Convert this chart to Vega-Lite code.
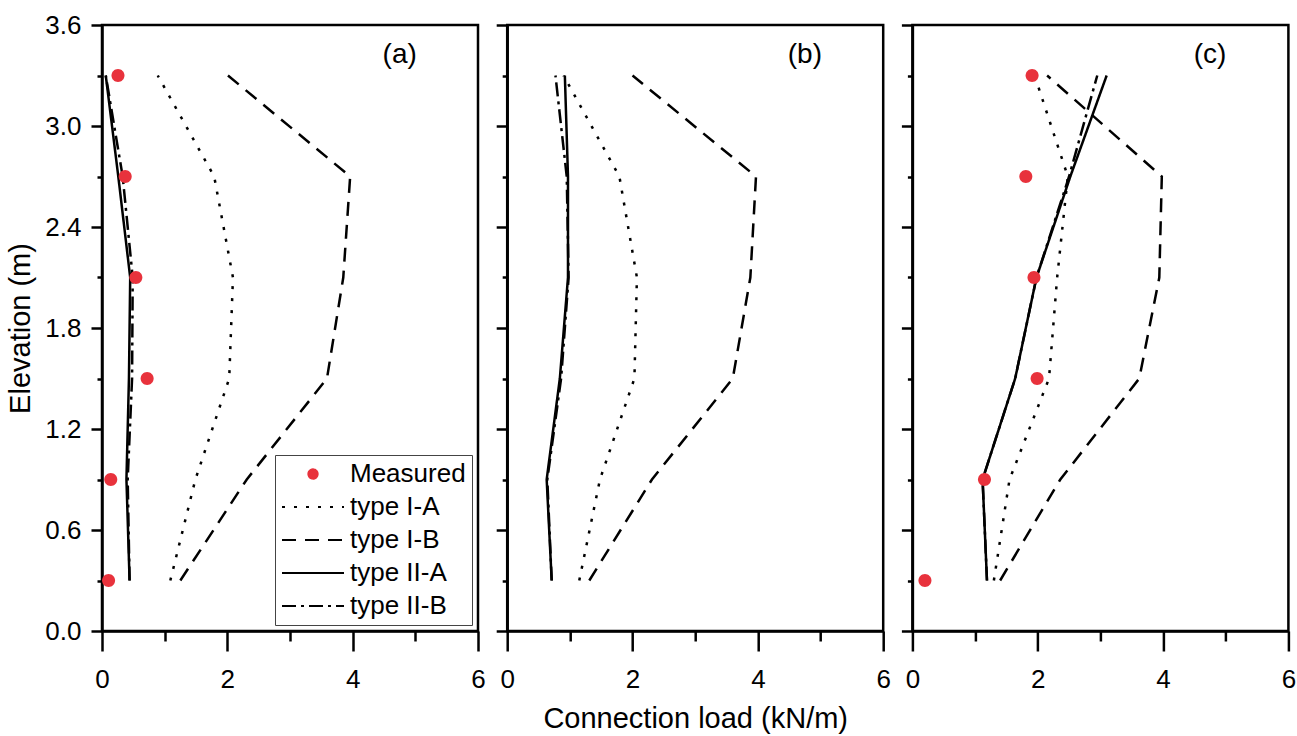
{
  "$schema": "https://vega.github.io/schema/vega-lite/v6.json",
  "background": "white",
  "padding": {"left": 5, "top": 10, "right": 0, "bottom": 0},
  "datasets": {
    "d": [
      {"panel": "a", "series": "type I-A", "x": 0.89, "y": 3.3},
      {"panel": "a", "series": "type I-A", "x": 1.79, "y": 2.7},
      {"panel": "a", "series": "type I-A", "x": 2.09, "y": 2.1},
      {"panel": "a", "series": "type I-A", "x": 2.03, "y": 1.5},
      {"panel": "a", "series": "type I-A", "x": 1.49, "y": 0.9},
      {"panel": "a", "series": "type I-A", "x": 1.09, "y": 0.3},
      {"panel": "a", "series": "type I-B", "x": 2.01, "y": 3.3},
      {"panel": "a", "series": "type I-B", "x": 3.96, "y": 2.7},
      {"panel": "a", "series": "type I-B", "x": 3.85, "y": 2.1},
      {"panel": "a", "series": "type I-B", "x": 3.59, "y": 1.5},
      {"panel": "a", "series": "type I-B", "x": 2.31, "y": 0.9},
      {"panel": "a", "series": "type I-B", "x": 1.25, "y": 0.3},
      {"panel": "a", "series": "type II-A", "x": 0.06, "y": 3.3},
      {"panel": "a", "series": "type II-A", "x": 0.26, "y": 2.7},
      {"panel": "a", "series": "type II-A", "x": 0.45, "y": 2.1},
      {"panel": "a", "series": "type II-A", "x": 0.43, "y": 1.5},
      {"panel": "a", "series": "type II-A", "x": 0.39, "y": 0.9},
      {"panel": "a", "series": "type II-A", "x": 0.44, "y": 0.3},
      {"panel": "a", "series": "type II-B", "x": 0.06, "y": 3.3},
      {"panel": "a", "series": "type II-B", "x": 0.33, "y": 2.7},
      {"panel": "a", "series": "type II-B", "x": 0.49, "y": 2.1},
      {"panel": "a", "series": "type II-B", "x": 0.48, "y": 1.5},
      {"panel": "a", "series": "type II-B", "x": 0.41, "y": 0.9},
      {"panel": "a", "series": "type II-B", "x": 0.44, "y": 0.3},
      {"panel": "a", "series": "Measured", "x": 0.255, "y": 3.3},
      {"panel": "a", "series": "Measured", "x": 0.37, "y": 2.7},
      {"panel": "a", "series": "Measured", "x": 0.54, "y": 2.1},
      {"panel": "a", "series": "Measured", "x": 0.72, "y": 1.5},
      {"panel": "a", "series": "Measured", "x": 0.14, "y": 0.9},
      {"panel": "a", "series": "Measured", "x": 0.105, "y": 0.3},
      {"panel": "b", "series": "type I-A", "x": 0.9, "y": 3.3},
      {"panel": "b", "series": "type I-A", "x": 1.79, "y": 2.7},
      {"panel": "b", "series": "type I-A", "x": 2.07, "y": 2.1},
      {"panel": "b", "series": "type I-A", "x": 2.03, "y": 1.5},
      {"panel": "b", "series": "type I-A", "x": 1.48, "y": 0.9},
      {"panel": "b", "series": "type I-A", "x": 1.15, "y": 0.3},
      {"panel": "b", "series": "type I-B", "x": 2.0, "y": 3.3},
      {"panel": "b", "series": "type I-B", "x": 3.97, "y": 2.7},
      {"panel": "b", "series": "type I-B", "x": 3.88, "y": 2.1},
      {"panel": "b", "series": "type I-B", "x": 3.6, "y": 1.5},
      {"panel": "b", "series": "type I-B", "x": 2.31, "y": 0.9},
      {"panel": "b", "series": "type I-B", "x": 1.31, "y": 0.3},
      {"panel": "b", "series": "type II-A", "x": 0.92, "y": 3.3},
      {"panel": "b", "series": "type II-A", "x": 0.97, "y": 2.7},
      {"panel": "b", "series": "type II-A", "x": 0.97, "y": 2.1},
      {"panel": "b", "series": "type II-A", "x": 0.84, "y": 1.5},
      {"panel": "b", "series": "type II-A", "x": 0.63, "y": 0.9},
      {"panel": "b", "series": "type II-A", "x": 0.71, "y": 0.3},
      {"panel": "b", "series": "type II-B", "x": 0.77, "y": 3.3},
      {"panel": "b", "series": "type II-B", "x": 0.95, "y": 2.7},
      {"panel": "b", "series": "type II-B", "x": 0.98, "y": 2.1},
      {"panel": "b", "series": "type II-B", "x": 0.86, "y": 1.5},
      {"panel": "b", "series": "type II-B", "x": 0.64, "y": 0.9},
      {"panel": "b", "series": "type II-B", "x": 0.71, "y": 0.3},
      {"panel": "c", "series": "type I-A", "x": 1.95, "y": 3.3},
      {"panel": "c", "series": "type I-A", "x": 2.48, "y": 2.7},
      {"panel": "c", "series": "type I-A", "x": 2.31, "y": 2.1},
      {"panel": "c", "series": "type I-A", "x": 2.18, "y": 1.5},
      {"panel": "c", "series": "type I-A", "x": 1.55, "y": 0.9},
      {"panel": "c", "series": "type I-A", "x": 1.3, "y": 0.3},
      {"panel": "c", "series": "type I-B", "x": 2.15, "y": 3.3},
      {"panel": "c", "series": "type I-B", "x": 3.98, "y": 2.7},
      {"panel": "c", "series": "type I-B", "x": 3.94, "y": 2.1},
      {"panel": "c", "series": "type I-B", "x": 3.62, "y": 1.5},
      {"panel": "c", "series": "type I-B", "x": 2.36, "y": 0.9},
      {"panel": "c", "series": "type I-B", "x": 1.4, "y": 0.3},
      {"panel": "c", "series": "type II-A", "x": 3.1, "y": 3.3},
      {"panel": "c", "series": "type II-A", "x": 2.52, "y": 2.7},
      {"panel": "c", "series": "type II-A", "x": 1.98, "y": 2.1},
      {"panel": "c", "series": "type II-A", "x": 1.64, "y": 1.5},
      {"panel": "c", "series": "type II-A", "x": 1.12, "y": 0.9},
      {"panel": "c", "series": "type II-A", "x": 1.19, "y": 0.3},
      {"panel": "c", "series": "type II-B", "x": 2.95, "y": 3.3},
      {"panel": "c", "series": "type II-B", "x": 2.5, "y": 2.7},
      {"panel": "c", "series": "type II-B", "x": 1.98, "y": 2.1},
      {"panel": "c", "series": "type II-B", "x": 1.64, "y": 1.5},
      {"panel": "c", "series": "type II-B", "x": 1.12, "y": 0.9},
      {"panel": "c", "series": "type II-B", "x": 1.19, "y": 0.3},
      {"panel": "c", "series": "Measured", "x": 1.91, "y": 3.3},
      {"panel": "c", "series": "Measured", "x": 1.81, "y": 2.7},
      {"panel": "c", "series": "Measured", "x": 1.94, "y": 2.1},
      {"panel": "c", "series": "Measured", "x": 1.99, "y": 1.5},
      {"panel": "c", "series": "Measured", "x": 1.15, "y": 0.9},
      {"panel": "c", "series": "Measured", "x": 0.2, "y": 0.3}
    ],
    "labels": [
      {"panel": "a", "x": 4.75, "y": 3.42, "label": "(a)"},
      {"panel": "b", "x": 4.75, "y": 3.42, "label": "(b)"},
      {"panel": "c", "x": 4.75, "y": 3.42, "label": "(c)"}
    ]
  },
  "config": {
    "font": "Liberation Sans",
    "view": {"stroke": "black", "strokeWidth": 2.5},
    "axis": {
      "domainColor": "black", "domainWidth": 2.5, "tickColor": "black", "tickWidth": 2.5,
      "labelColor": "black", "titleColor": "black", "labelFont": "Liberation Sans", "titleFont": "Liberation Sans",
      "labelFontSize": 26, "titleFontSize": 29, "titleFontWeight": "normal", "grid": false, "labelFlush": false, "labelOverlap": false
    },
    "legend": {
      "labelFont": "Liberation Sans", "labelFontSize": 26, "labelColor": "black", "labelLimit": 400
    }
  },
  "spacing": 29.2,
  "bounds": "flush",
  "resolve": {
    "scale": {"color": "independent", "strokeDash": "independent", "shape": "independent"},
    "legend": {"color": "independent", "strokeDash": "independent", "shape": "independent"}
  },
  "hconcat": [
    {
      "width": 376, "height": 606,
      "layer": [
        {
          "data": {"name": "d"},
          "transform": [{"filter": "datum.panel === 'a' && datum.series !== 'Measured'"}],
          "mark": {"type": "line", "strokeWidth": 2.5},
          "encoding": {
            "x": {"field": "x", "type": "quantitative", "scale": {"domain": [0, 6], "nice": false, "zero": false},
              "axis": {"title": null, "values": [0, 1, 2, 3, 4, 5, 6], "labelExpr": "datum.value % 2 === 0 ? '' + datum.value : ''",
                "tickSize": {"condition": {"test": "datum.value % 2 === 1", "value": 10}, "value": 20}, "labelPadding": 15}},
            "y": {"field": "y", "type": "quantitative", "scale": {"domain": [0, 3.6], "nice": false},
              "axis": {"title": "Elevation (m)", "titlePadding": 9, "values": [0, 0.3, 0.6, 0.9, 1.2, 1.5, 1.8, 2.1, 2.4, 2.7, 3.0, 3.3, 3.6],
                "labelExpr": "round(datum.value * 10) % 6 === 0 ? format(datum.value, '.1f') : ''",
                "tickSize": {"condition": {"test": "round(datum.value * 10) % 6 !== 0", "value": 5}, "value": 11}, "labelPadding": 10}},
            "order": {"field": "y", "type": "quantitative"},
            "strokeDash": {"field": "series", "type": "nominal",
              "scale": {"domain": ["Measured", "type I-A", "type I-B", "type II-A", "type II-B"], "range": [[1, 0], [3, 9], [14, 9], [1, 0], [14, 5, 3, 5]]},
              "legend": {"title": null, "orient": "bottom-right", "offset": 6, "symbolSize": 3844, "symbolStrokeWidth": 2, "clipHeight": 26,
                "strokeColor": "#444", "fillColor": "white", "padding": 6, "rowPadding": 7, "labelOffset": 5}},
            "color": {"field": "series", "type": "nominal",
              "scale": {"domain": ["Measured", "type I-A", "type I-B", "type II-A", "type II-B"], "range": ["#e8323c", "black", "black", "black", "black"]},
              "legend": {"title": null, "orient": "bottom-right", "offset": 6, "symbolSize": 3844, "symbolStrokeWidth": 2, "clipHeight": 26,
                "strokeColor": "#444", "fillColor": "white", "padding": 6, "rowPadding": 7, "labelOffset": 5}}
          }
        },
        {
          "data": {"name": "d"},
          "transform": [{"filter": "datum.panel === 'a' && datum.series === 'Measured'"}],
          "mark": {"type": "point", "filled": true, "opacity": 1, "size": 7511},
          "encoding": {
            "x": {"field": "x", "type": "quantitative"},
            "y": {"field": "y", "type": "quantitative"},
            "color": {"field": "series", "type": "nominal",
              "scale": {"domain": ["Measured", "type I-A", "type I-B", "type II-A", "type II-B"], "range": ["#e8323c", "black", "black", "black", "black"]},
              "legend": {"title": null, "orient": "bottom-right", "offset": 6, "symbolSize": 3844, "symbolStrokeWidth": 2, "clipHeight": 26,
                "strokeColor": "#444", "fillColor": "white", "padding": 6, "rowPadding": 7, "labelOffset": 5}},
            "shape": {"field": "series", "type": "nominal",
              "scale": {"domain": ["Measured", "type I-A", "type I-B", "type II-A", "type II-B"], "range": ["M-0.15,0A0.15,0.15,0,1,1,0.15,0A0.15,0.15,0,1,1,-0.15,0Z", "stroke", "stroke", "stroke", "stroke"]},
              "legend": {"title": null, "orient": "bottom-right", "offset": 6, "symbolSize": 3844, "symbolStrokeWidth": 2, "clipHeight": 26,
                "strokeColor": "#444", "fillColor": "white", "padding": 6, "rowPadding": 7, "labelOffset": 5}}
          }
        },
        {
          "data": {"name": "labels"},
          "transform": [{"filter": "datum.panel === 'a'"}],
          "mark": {"type": "text", "fontSize": 28, "font": "Liberation Sans", "color": "black"},
          "encoding": {
            "x": {"field": "x", "type": "quantitative"},
            "y": {"field": "y", "type": "quantitative"},
            "text": {"field": "label"}
          }
        }
      ]
    },
    {
      "width": 376, "height": 606,
      "layer": [
        {
          "data": {"name": "d"},
          "transform": [{"filter": "datum.panel === 'b' && datum.series !== 'Measured'"}],
          "mark": {"type": "line", "strokeWidth": 2.5},
          "encoding": {
            "x": {"field": "x", "type": "quantitative", "scale": {"domain": [0, 6], "nice": false, "zero": false},
              "axis": {"title": "Connection load (kN/m)", "titlePadding": 12, "values": [0, 1, 2, 3, 4, 5, 6], "labelExpr": "datum.value % 2 === 0 ? '' + datum.value : ''",
                "tickSize": {"condition": {"test": "datum.value % 2 === 1", "value": 10}, "value": 20}, "labelPadding": 15}},
            "y": {"field": "y", "type": "quantitative", "scale": {"domain": [0, 3.6], "nice": false},
              "axis": {"title": null, "labels": false, "values": [0, 0.3, 0.6, 0.9, 1.2, 1.5, 1.8, 2.1, 2.4, 2.7, 3.0, 3.3, 3.6],
                "tickSize": {"condition": {"test": "round(datum.value * 10) % 6 !== 0", "value": 5}, "value": 11}}},
            "order": {"field": "y", "type": "quantitative"},
            "strokeDash": {"field": "series", "type": "nominal",
              "scale": {"domain": ["Measured", "type I-A", "type I-B", "type II-A", "type II-B"], "range": [[1, 0], [3, 9], [14, 9], [1, 0], [14, 5, 3, 5]]},
              "legend": null},
            "color": {"field": "series", "type": "nominal",
              "scale": {"domain": ["Measured", "type I-A", "type I-B", "type II-A", "type II-B"], "range": ["#e8323c", "black", "black", "black", "black"]},
              "legend": null}
          }
        },
        {
          "data": {"name": "labels"},
          "transform": [{"filter": "datum.panel === 'b'"}],
          "mark": {"type": "text", "fontSize": 28, "font": "Liberation Sans", "color": "black"},
          "encoding": {
            "x": {"field": "x", "type": "quantitative"},
            "y": {"field": "y", "type": "quantitative"},
            "text": {"field": "label"}
          }
        }
      ]
    },
    {
      "width": 376, "height": 606,
      "layer": [
        {
          "data": {"name": "d"},
          "transform": [{"filter": "datum.panel === 'c' && datum.series !== 'Measured'"}],
          "mark": {"type": "line", "strokeWidth": 2.5},
          "encoding": {
            "x": {"field": "x", "type": "quantitative", "scale": {"domain": [0, 6], "nice": false, "zero": false},
              "axis": {"title": null, "values": [0, 1, 2, 3, 4, 5, 6], "labelExpr": "datum.value % 2 === 0 ? '' + datum.value : ''",
                "tickSize": {"condition": {"test": "datum.value % 2 === 1", "value": 10}, "value": 20}, "labelPadding": 15}},
            "y": {"field": "y", "type": "quantitative", "scale": {"domain": [0, 3.6], "nice": false},
              "axis": {"title": null, "labels": false, "values": [0, 0.3, 0.6, 0.9, 1.2, 1.5, 1.8, 2.1, 2.4, 2.7, 3.0, 3.3, 3.6],
                "tickSize": {"condition": {"test": "round(datum.value * 10) % 6 !== 0", "value": 5}, "value": 11}}},
            "order": {"field": "y", "type": "quantitative"},
            "strokeDash": {"field": "series", "type": "nominal",
              "scale": {"domain": ["Measured", "type I-A", "type I-B", "type II-A", "type II-B"], "range": [[1, 0], [3, 9], [14, 9], [1, 0], [14, 5, 3, 5]]},
              "legend": null},
            "color": {"field": "series", "type": "nominal",
              "scale": {"domain": ["Measured", "type I-A", "type I-B", "type II-A", "type II-B"], "range": ["#e8323c", "black", "black", "black", "black"]},
              "legend": null}
          }
        },
        {
          "data": {"name": "d"},
          "transform": [{"filter": "datum.panel === 'c' && datum.series === 'Measured'"}],
          "mark": {"type": "point", "filled": true, "opacity": 1, "size": 7511, "shape": "M-0.15,0A0.15,0.15,0,1,1,0.15,0A0.15,0.15,0,1,1,-0.15,0Z"},
          "encoding": {
            "x": {"field": "x", "type": "quantitative"},
            "y": {"field": "y", "type": "quantitative"},
            "color": {"field": "series", "type": "nominal",
              "scale": {"domain": ["Measured", "type I-A", "type I-B", "type II-A", "type II-B"], "range": ["#e8323c", "black", "black", "black", "black"]},
              "legend": null}
          }
        },
        {
          "data": {"name": "labels"},
          "transform": [{"filter": "datum.panel === 'c'"}],
          "mark": {"type": "text", "fontSize": 28, "font": "Liberation Sans", "color": "black"},
          "encoding": {
            "x": {"field": "x", "type": "quantitative"},
            "y": {"field": "y", "type": "quantitative"},
            "text": {"field": "label"}
          }
        }
      ]
    }
  ]
}
